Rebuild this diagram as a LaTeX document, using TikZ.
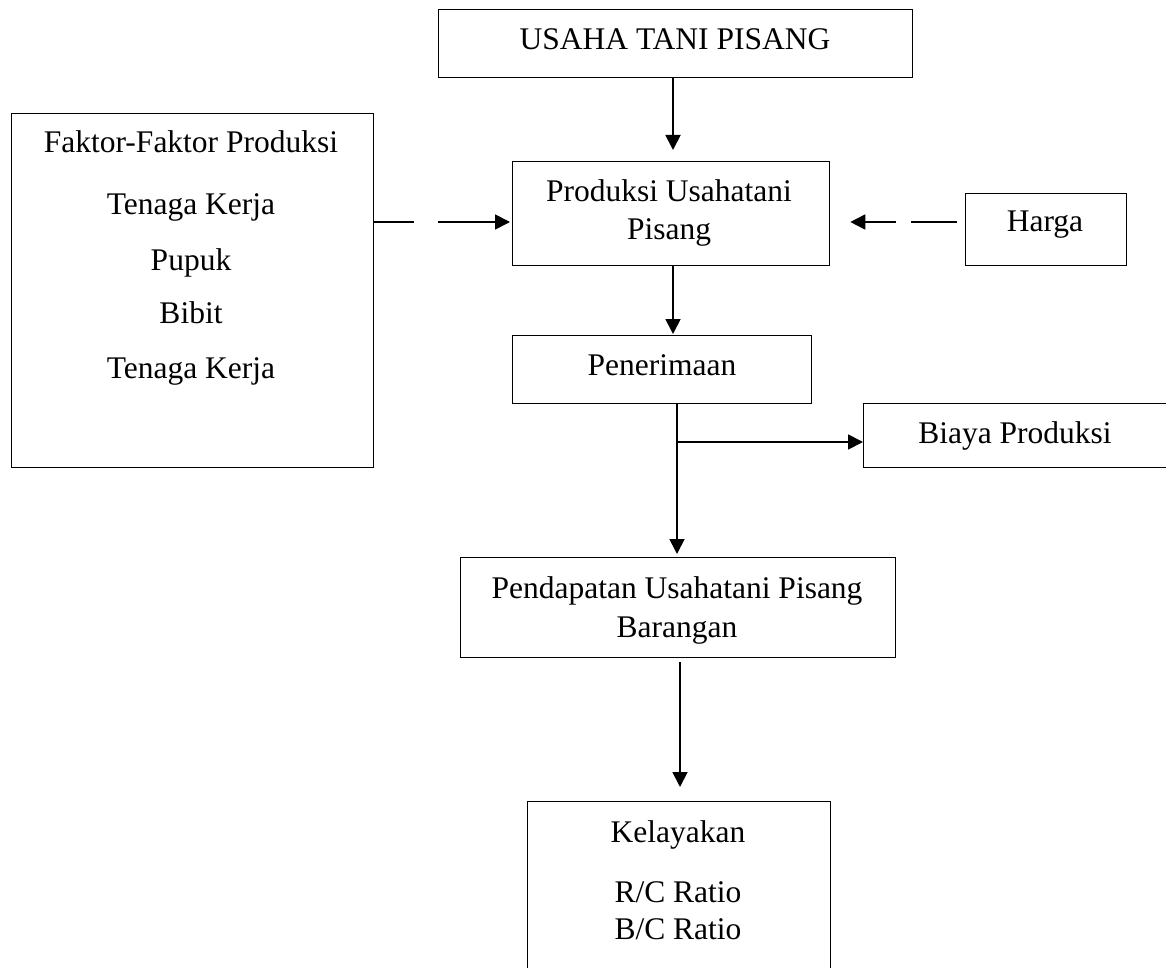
\documentclass[tikz,border=0pt]{standalone}
\usepackage{fontspec}
\setmainfont{Liberation Serif}
\usetikzlibrary{arrows.meta}
\begin{document}
\begin{tikzpicture}[x=1pt,y=-1pt,
  box/.style={draw=black, line width=1.3pt, rectangle, inner sep=0pt, anchor=north west},
  txt/.style={anchor=base, inner sep=0pt, font=\fontsize{31.5}{38}\selectfont},
  ln/.style={line width=1.8pt},
  arr/.style={line width=1.8pt, -{Triangle[length=15pt,width=15pt]}}]
\useasboundingbox (0,0) rectangle (1166,968);
\clip (0,0) rectangle (1166,968);
% boxes
\node[box, minimum width=474pt, minimum height=68pt] (usaha) at (438,9) {};
\node[box, minimum width=362pt, minimum height=354pt] (faktor) at (11,113) {};
\node[box, minimum width=317pt, minimum height=104pt] (produksi) at (512,161) {};
\node[box, minimum width=161pt, minimum height=72pt] (harga) at (965,193) {};
\node[box, minimum width=299pt, minimum height=68pt] (penerimaan) at (512,335) {};
\node[box, minimum width=306pt, minimum height=64pt] (biaya) at (863,403) {};
\node[box, minimum width=435pt, minimum height=100pt] (pendapatan) at (460,557) {};
\node[box, minimum width=303pt, minimum height=190pt] (kelayakan) at (527,801) {};
% texts
\node[txt] (t1) at (675,50) {USAHA TANI PISANG};
\node[txt] (t2) at (191,153) {Faktor-Faktor Produksi};
\node[txt] (t3) at (191,215) {Tenaga Kerja};
\node[txt] (t4) at (191,270) {Pupuk};
\node[txt] (t5) at (191,323) {Bibit};
\node[txt] (t6) at (191,378) {Tenaga Kerja};
\node[txt] (t7) at (669,202) {Produksi Usahatani};
\node[txt] (t8) at (669,240) {Pisang};
\node[txt] (t9) at (1045,232) {Harga};
\node[txt] (t10) at (662,375) {Penerimaan};
\node[txt] (t11) at (1015,443) {Biaya Produksi};
\node[txt] (t12) at (677,598) {Pendapatan Usahatani Pisang};
\node[txt] (t13) at (677,637) {Barangan};
\node[txt] (t14) at (678,842) {Kelayakan};
\node[txt] (t15) at (678,902) {R/C Ratio};
\node[txt] (t16) at (678,939) {B/C Ratio};
% helper coordinates
\coordinate (ux) at (673,0);
\coordinate (ly) at (0,222);
\coordinate (vx) at (677,0);
\coordinate (kx) at (680,0);
\coordinate (br) at (677,442);
% connectors
\draw[arr, shorten >=11pt] (usaha.south -| ux) -- (produksi.north -| ux);
\draw[arr, shorten >=1pt] (produksi.south -| ux) -- (penerimaan.north -| ux);
\draw[arr, shorten >=2pt, dash pattern=on 40pt off 24pt on 300pt] (faktor.east |- ly) -- (produksi.west |- ly);
\draw[arr, shorten <=8pt, shorten >=20pt, dash pattern=on 46pt off 15pt on 300pt] (harga.west |- ly) -- (produksi.east |- ly);
\draw[arr, shorten >=3pt] (penerimaan.south -| vx) -- (pendapatan.north -| vx);
\draw[arr] (br) -- (biaya.west |- br);
\draw[arr, shorten <=4pt, shorten >=14pt] (pendapatan.south -| kx) -- (kelayakan.north -| kx);
\end{tikzpicture}
\end{document}
